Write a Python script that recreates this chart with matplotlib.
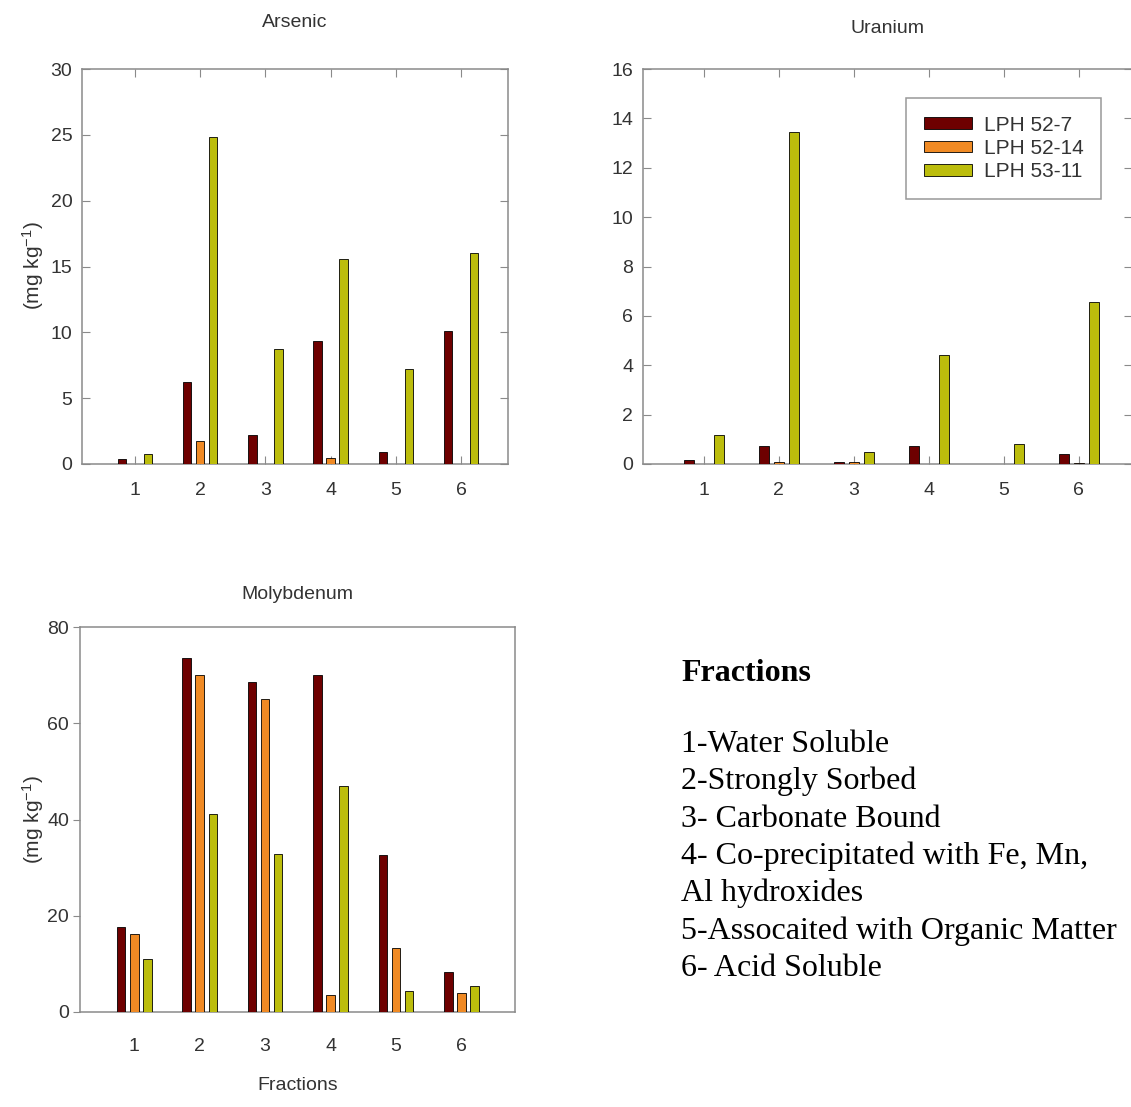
import numpy as np
import matplotlib.pyplot as plt

plt.rcParams['font.family'] = ['Liberation Sans', 'DejaVu Sans']
plt.rcParams['mathtext.fontset'] = 'custom'
plt.rcParams['mathtext.rm'] = 'Liberation Sans'
plt.rcParams['mathtext.it'] = 'Liberation Sans:italic'

fractions = [1, 2, 3, 4, 5, 6]
samples = ['LPH 52-7', 'LPH 52-14', 'LPH 53-11']
colors = ['#6e0000', '#f08a24', '#bcbd0c']

arsenic_52_7 = [0.38, 6.25, 2.2, 9.37, 0.93, 10.1]
arsenic_52_14 = [0, 1.75, 0, 0.47, 0, 0]
arsenic_53_11 = [0.78, 24.8, 8.73, 15.6, 7.19, 16.05]

uranium_52_7 = [0.16, 0.74, 0.1, 0.74, 0, 0.42]
uranium_52_14 = [0, 0.1, 0.08, 0, 0, 0.03]
uranium_53_11 = [1.17, 13.43, 0.5, 4.4, 0.81, 6.56]

molybdenum_52_7 = [17.6, 73.5, 68.5, 70.1, 32.6, 8.4]
molybdenum_52_14 = [16.2, 70.1, 65.1, 3.5, 13.4, 3.9]
molybdenum_53_11 = [11.0, 41.1, 32.8, 47.0, 4.3, 5.5]

fraction_notes = ['1-Water Soluble', '2-Strongly Sorbed', '3- Carbonate Bound',
                  '4- Co-precipitated with Fe, Mn,', 'Al hydroxides',
                  '5-Assocaited with Organic Matter', '6- Acid Soluble']

W, H = 1131, 1107
fig = plt.figure(figsize=(W / 100, H / 100), dpi=100)


def px_axes(left, top, right, bottom):
    return fig.add_axes([left / W, 1 - bottom / H, (right - left) / W, (bottom - top) / H])


def draw_bars(ax, series):
    x = np.array(fractions)
    for k, (vals, off) in enumerate(zip(series, [-0.2, 0, 0.2])):
        ax.bar(x + off, vals, width=0.13, color=colors[k], edgecolor='black',
               linewidth=0.6, label=samples[k], zorder=3)
    ax.set_xticks(fractions)
    for s in ax.spines.values():
        s.set_color('#8a8a8a')
        s.set_linewidth(1.1)


ax1 = px_axes(82, 69, 508, 464)
draw_bars(ax1, [arsenic_52_7, arsenic_52_14, arsenic_53_11])
ax1.set_xlim(0.19, 6.72)
ax1.set_ylim(0, 30)
ax1.set_yticks([0, 5, 10, 15, 20, 25, 30])

ax2 = px_axes(643, 69, 1132, 464)
draw_bars(ax2, [uranium_52_7, uranium_52_14, uranium_53_11])
ax2.set_xlim(0.19, 6.71)
ax2.set_ylim(0, 16)
ax2.set_yticks([0, 2, 4, 6, 8, 10, 12, 14, 16])

for ax in (ax1, ax2):
    ax.tick_params(direction='in', length=6, width=0.8, color='#8a8a8a',
                   top=True, right=True, labelsize=14, labelcolor='#333333')
    ax.tick_params(axis='y', pad=7)
    ax.tick_params(axis='x', pad=13)

ax3 = px_axes(80, 627, 515, 1012)
draw_bars(ax3, [molybdenum_52_7, molybdenum_52_14, molybdenum_53_11])
ax3.set_xlim(0.17, 6.82)
ax3.set_ylim(0, 80)
ax3.set_yticks([0, 20, 40, 60, 80])
ax3.tick_params(axis='y', direction='out', length=5, width=0.8, color='#8a8a8a',
                labelsize=14, labelcolor='#333333', pad=3)
ax3.tick_params(axis='x', length=0, labelsize=14, labelcolor='#333333', pad=19)

title_kw = dict(ha='center', va='baseline', fontsize=14, color='#333333')
fig.text((82 + 508) / 2 / W, 1 - 27 / H, 'Arsenic', **title_kw)
fig.text((643 + 1132) / 2 / W, 1 - 33 / H, 'Uranium', **title_kw)
fig.text((80 + 515) / 2 / W, 1 - 599 / H, 'Molybdenum', **title_kw)
fig.text((80 + 515) / 2 / W, 1 - 1085 / H, 'Fractions', ha='center', va='center',
         fontsize=14, color='#333333')

ylab = '(mg kg$^{-1}$)'
fig.text(33 / W, 1 - 266 / H, ylab, rotation=90, ha='center', va='center',
         fontsize=15, color='#333333')
fig.text(33 / W, 1 - 820 / H, ylab, rotation=90, ha='center', va='center',
         fontsize=15, color='#333333')

leg = ax2.legend(loc='upper left', bbox_to_anchor=(906 / W, 1 - 98 / H),
                 bbox_transform=fig.transFigure, borderaxespad=0, fontsize=15,
                 frameon=True, fancybox=False, borderpad=0.85, labelspacing=0.2,
                 handlelength=2.3, handleheight=0.5, handletextpad=0.58)
leg.get_frame().set_edgecolor('#808080')
leg.get_frame().set_linewidth(1.1)
for t in leg.get_texts():
    t.set_color('#333333')

fig.text(681 / W, 1 - 680.7 / H, 'Fractions', family='Liberation Serif',
         weight='bold', fontsize=23, va='baseline')
for i, line in enumerate(fraction_notes):
    fig.text(681 / W, 1 - (752 + i * 37.3) / H, line, family='Liberation Serif',
             fontsize=23, va='baseline')

fig.savefig('out.png', dpi=100)
